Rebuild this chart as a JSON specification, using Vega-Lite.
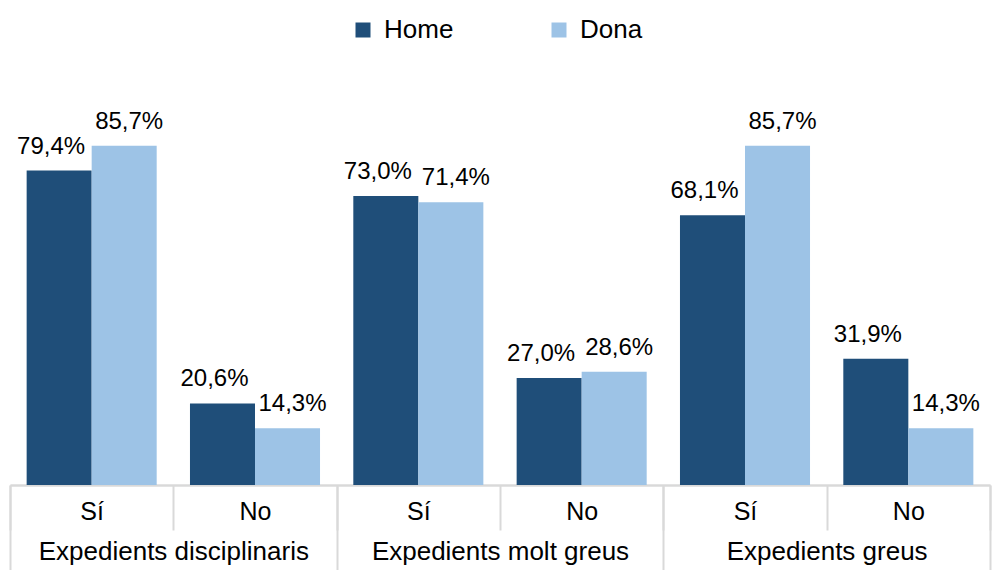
{
  "$schema": "https://vega.github.io/schema/vega-lite/v6.json",
  "width": 980,
  "height": 396,
  "autosize": {"type": "none"},
  "padding": {"left": 10, "top": 89, "right": 2, "bottom": 85},
  "config": {
    "locale": {"number": {"decimal": ",", "thousands": ".", "grouping": [3], "currency": ["", " €"]}},
    "view": {"stroke": null},
    "font": "Liberation Sans"
  },
  "data": {
    "values": [
      {"grup": "Expedients disciplinaris", "cat": "Expedients disciplinaris|Sí", "sexe": "Home", "valor": 0.794},
      {"grup": "Expedients disciplinaris", "cat": "Expedients disciplinaris|Sí", "sexe": "Dona", "valor": 0.857},
      {"grup": "Expedients disciplinaris", "cat": "Expedients disciplinaris|No", "sexe": "Home", "valor": 0.206},
      {"grup": "Expedients disciplinaris", "cat": "Expedients disciplinaris|No", "sexe": "Dona", "valor": 0.143},
      {"grup": "Expedients molt greus", "cat": "Expedients molt greus|Sí", "sexe": "Home", "valor": 0.730},
      {"grup": "Expedients molt greus", "cat": "Expedients molt greus|Sí", "sexe": "Dona", "valor": 0.714},
      {"grup": "Expedients molt greus", "cat": "Expedients molt greus|No", "sexe": "Home", "valor": 0.270},
      {"grup": "Expedients molt greus", "cat": "Expedients molt greus|No", "sexe": "Dona", "valor": 0.286},
      {"grup": "Expedients greus", "cat": "Expedients greus|Sí", "sexe": "Home", "valor": 0.681},
      {"grup": "Expedients greus", "cat": "Expedients greus|Sí", "sexe": "Dona", "valor": 0.857},
      {"grup": "Expedients greus", "cat": "Expedients greus|No", "sexe": "Home", "valor": 0.319},
      {"grup": "Expedients greus", "cat": "Expedients greus|No", "sexe": "Dona", "valor": 0.143}
    ]
  },
  "resolve": {"scale": {"x": "independent"}, "axis": {"x": "independent"}},
  "layer": [
    {
      "encoding": {
        "x": {
          "field": "cat", "type": "nominal", "sort": null,
          "scale": {"paddingInner": 0, "paddingOuter": 0},
          "axis": {
            "orient": "bottom", "title": null,
            "labelExpr": "split(datum.label, '|')[1]",
            "labelAngle": 0, "labelFontSize": 25, "labelColor": "#000000",
            "labelBaseline": "top", "labelPadding": -31,
            "domainColor": "#d9d9d9", "domainWidth": 2,
            "tickColor": "#d9d9d9", "tickWidth": 2, "tickSize": 45, "tickBand": "extent"
          }
        },
        "xOffset": {
          "field": "sexe", "type": "nominal", "sort": ["Home", "Dona"],
          "scale": {"paddingInner": 0, "paddingOuter": 0.256}
        },
        "y": {"field": "valor", "type": "quantitative", "scale": {"domain": [0, 1]}, "axis": null}
      },
      "layer": [
        {
          "mark": {"type": "bar"},
          "encoding": {
            "color": {
              "field": "sexe", "type": "nominal", "sort": ["Home", "Dona"],
              "scale": {"domain": ["Home", "Dona"], "range": ["#1f4e79", "#9dc3e6"]},
              "legend": {
                "title": null, "orient": "none", "direction": "horizontal",
                "legendX": 340, "legendY": -72,
                "symbolType": "square", "symbolSize": 225, "symbolStrokeWidth": 0,
                "labelFontSize": 26, "labelColor": "#000000", "labelOffset": 8,
                "columnPadding": 92
              }
            }
          }
        },
        {
          "transform": [{"filter": "datum.sexe === 'Home'"}],
          "mark": {"type": "text", "fontSize": 24, "baseline": "alphabetic", "dy": -17, "dx": -8, "color": "#000000"},
          "encoding": {
            "text": {"field": "valor", "type": "quantitative", "format": ".1%"}
          }
        },
        {
          "transform": [{"filter": "datum.sexe === 'Dona'"}],
          "mark": {"type": "text", "fontSize": 24, "baseline": "alphabetic", "dy": -17, "dx": 5, "color": "#000000"},
          "encoding": {
            "text": {"field": "valor", "type": "quantitative", "format": ".1%"}
          }
        }
      ]
    },
    {
      "mark": {"type": "point", "opacity": 0},
      "encoding": {
        "x": {
          "field": "grup", "type": "nominal", "sort": null,
          "scale": {"paddingInner": 0, "paddingOuter": 0},
          "axis": {
            "orient": "bottom", "title": null, "labelAngle": 0,
            "labelFontSize": 26, "labelColor": "#000000", "labelLimit": 0,
            "labelBaseline": "top", "labelPadding": -37,
            "domainColor": "#d9d9d9", "domainWidth": 2,
            "tickColor": "#d9d9d9", "tickWidth": 2, "tickSize": 90, "tickBand": "extent"
          }
        }
      }
    }
  ]
}
